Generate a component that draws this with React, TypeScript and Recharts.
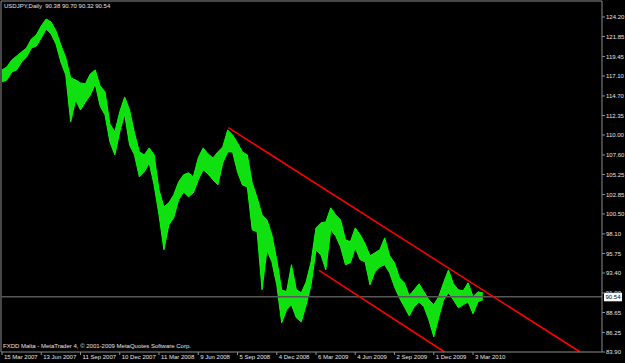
import React from 'react';
import { ComposedChart, Area, XAxis, YAxis, ReferenceLine } from 'recharts';

// USDJPY daily, one sample every 8 bars
const BARS_PER_SAMPLE = 8;

const highs = [
  117.83, 118.19, 119.03, 119.51, 119.99, 120.47, 121.56, 122.04, 123.12, 123.96,
  123.6, 122.52, 120.83, 119.27, 116.87, 116.63, 116.27, 116.15, 117.35, 117.83,
  115.9, 115.18, 111.34, 110.37, 112.78, 114.58, 113.02, 110.25, 107.97, 107.61,
  108.45, 107.61, 103.4, 101.36, 101.84, 102.8, 104.36, 105.21, 105.45, 104.96,
  107.25, 108.45, 107.73, 107.25, 107.97, 108.57, 110.61, 110.01, 109.05, 107.97,
  107.61, 104.24, 102.44, 100.4, 99.8, 97.99, 94.99, 91.38, 91.14, 94.39,
  91.38, 91.02, 92.34, 94.75, 98.83, 99.43, 99.55, 101.24, 100.4, 99.8,
  97.39, 97.15, 98.83, 97.99, 96.91, 95.47, 95.83, 96.19, 97.63, 95.47,
  94.63, 92.82, 92.22, 90.66, 91.38, 92.1, 91.14, 90.18, 89.58, 90.54,
  92.22, 93.78, 92.1, 91.38, 91.26, 92.22, 90.54, 91.14, 91.02,
];

const lows = [
  116.39, 116.63, 117.59, 117.83, 118.79, 119.39, 120.47, 120.71, 121.68, 122.76,
  122.16, 120.95, 118.79, 117.23, 111.58, 114.22, 113.02, 113.98, 114.82, 116.15,
  113.5, 112.42, 109.17, 107.61, 110.37, 112.54, 108.81, 107.61, 104.96, 105.57,
  106.65, 104.0, 100.4, 96.19, 99.19, 100.04, 102.2, 103.16, 102.56, 103.04,
  104.6, 105.81, 105.33, 104.6, 104.0, 106.65, 107.97, 107.97, 105.57, 104.0,
  103.76, 98.59, 98.35, 91.38, 96.19, 94.75, 91.98, 87.41, 88.98, 89.58,
  88.01, 87.53, 89.58, 91.98, 96.19, 95.59, 93.78, 98.59, 97.87, 96.55,
  94.39, 94.63, 96.43, 94.99, 94.75, 91.98, 93.54, 94.15, 94.39, 93.42,
  91.74, 90.42, 89.34, 88.25, 89.34, 89.94, 89.34, 87.77, 85.73, 88.01,
  90.18, 91.02, 90.18, 89.22, 89.58, 89.94, 88.49, 89.94, 90.18,
];

const xTickBars = [0, 64, 128, 192, 256, 320, 384, 448, 512, 576, 640, 704, 768];
const xTickLabels = [
  '15 Mar 2007', '13 Jun 2007', '11 Sep 2007', '10 Dec 2007', '11 Mar 2008', '9 Jun 2008',
  '5 Sep 2008', '4 Dec 2008', '6 Mar 2009', '4 Jun 2009', '2 Sep 2009', '1 Dec 2009', '3 Mar 2010',
];

const yTicks = [
  124.2, 121.85, 119.45, 117.1, 114.7, 112.35, 110.0, 107.6, 105.25,
  102.85, 100.5, 98.1, 95.75, 93.4, 91.0, 88.65, 86.25, 83.9,
];

const lastPrice = 90.54;
const upperChannel = [{ x: 369, y: 110.89 }, { x: 942, y: 83.93 }];
const lowerChannel = [{ x: 517, y: 93.72 }, { x: 721, y: 83.93 }];

const data = highs.map((h, i) => ({ bar: i * BARS_PER_SAMPLE, range: [lows[i], h] }));

const FONT = '"Liberation Sans", Arial, sans-serif';
const TEXT = '#e4e4e4';
const FRAME = '#8c8c8c';
const X_MIN = -1.6;
const X_MAX = 978.3;
const Y_MIN = 83.9;
const Y_MAX = 126.12;

const DateTick = (props: any) => {
  const { x, y, payload } = props;
  const idx = xTickBars.indexOf(payload.value);
  return (
    <text x={x + 2} y={y + 4} fontSize={6} fontFamily={FONT} fill={TEXT} textAnchor="start">
      {xTickLabels[idx]}
    </text>
  );
};

const PriceTag = (props: any) => {
  const { viewBox } = props;
  const x = viewBox.x + viewBox.width;
  const y = viewBox.y;
  return (
    <g>
      <rect x={x + 2} y={y - 4} width={18} height={8.5} fill="#ffffff" />
      <text x={x + 3.5} y={y + 2.5} fontSize={6} fontFamily={FONT} fill="#000000">
        {lastPrice.toFixed(2)}
      </text>
    </g>
  );
};

export default function App() {
  return (
    <div style={{ position: 'fixed', left: 0, top: 0, width: 625, height: 363, background: '#000000' }}>
      <ComposedChart
        width={625}
        height={363}
        data={data}
        margin={{ top: 1, right: 0, bottom: 0, left: 1 }}
      >
        <XAxis
          dataKey="bar"
          type="number"
          domain={[X_MIN, X_MAX]}
          allowDataOverflow
          ticks={xTickBars}
          interval={0}
          height={11}
          axisLine={{ stroke: FRAME }}
          tickLine={{ stroke: FRAME }}
          tickSize={3}
          tickMargin={0}
          tick={<DateTick />}
        />
        <YAxis
          orientation="right"
          type="number"
          domain={[Y_MIN, Y_MAX]}
          allowDataOverflow
          ticks={yTicks}
          interval={0}
          width={23}
          axisLine={{ stroke: FRAME }}
          tickLine={{ stroke: FRAME }}
          tickSize={3}
          tickMargin={1}
          tickFormatter={(v: number) => v.toFixed(2)}
          tick={{ fontSize: 6, fontFamily: FONT, fill: TEXT }}
        />
        <ReferenceLine x={X_MIN} stroke={FRAME} />
        <ReferenceLine y={Y_MAX} stroke={FRAME} />
        <ReferenceLine y={lastPrice} stroke="#575757" strokeWidth={1.5} label={<PriceTag />} />
        <Area
          dataKey="range"
          type="linear"
          stroke="#00ff00"
          strokeWidth={1}
          fill="#10e010"
          fillOpacity={1}
          isAnimationActive={false}
          dot={false}
          activeDot={false}
        />
        <ReferenceLine segment={upperChannel} stroke="#ff0000" strokeWidth={1.5} />
        <ReferenceLine segment={lowerChannel} stroke="#ff0000" strokeWidth={1.5} />
      </ComposedChart>
      <div
        style={{
          position: 'absolute', left: 4, top: 2, fontSize: 6, fontFamily: FONT,
          color: TEXT, whiteSpace: 'pre', lineHeight: '8px',
        }}
      >
        {'USDJPY,Daily  90.38 90.70 90.32 90.54'}
      </div>
      <div
        style={{
          position: 'absolute', left: 3, top: 342, fontSize: 6, fontFamily: FONT,
          color: TEXT, whiteSpace: 'pre', lineHeight: '8px',
        }}
      >
        {'FXDD Malta - MetaTrader 4, \u00a9 2001-2009 MetaQuotes Software Corp.'}
      </div>
    </div>
  );
}
